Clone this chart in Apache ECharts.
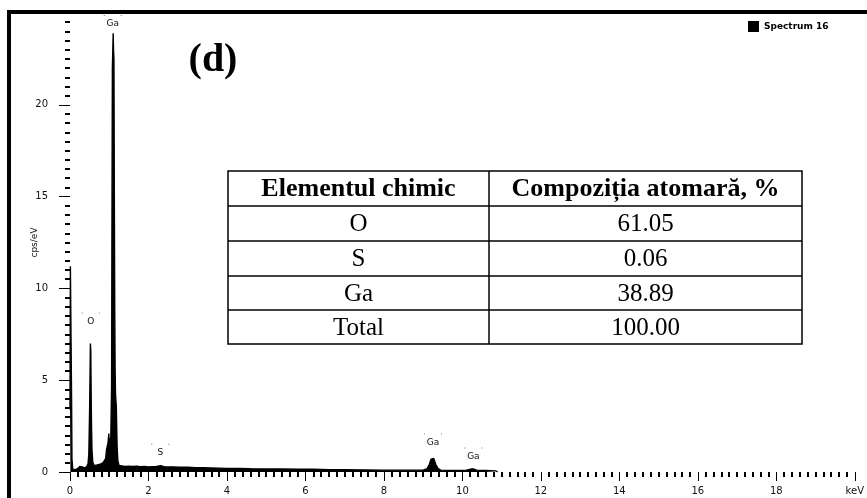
<!DOCTYPE html>
<html>
<head>
<meta charset="utf-8">
<title>EDS spectrum</title>
<script src="https://cdn.jsdelivr.net/npm/echarts@6/dist/echarts.min.js"></script>
<style>
  html, body { margin: 0; padding: 0; background: #fff; }
  #chart { width: 867px; height: 498px; }
</style>
</head>
<body>
<div id="chart"></div>
<script>
// EDS spectrum: energy (keV) vs counts per second per eV
const energyKeV = [
  0.00, 0.01, 0.03, 0.04, 0.05, 0.07, 0.10, 0.13, 0.16, 0.19,
  0.22, 0.25, 0.28, 0.31, 0.34, 0.37, 0.40, 0.43, 0.46, 0.48,
  0.49, 0.50, 0.51, 0.52, 0.53, 0.54, 0.55, 0.56, 0.58, 0.61,
  0.65, 0.69, 0.73, 0.77, 0.81, 0.85, 0.88, 0.91, 0.93, 0.95,
  0.97, 0.99, 1.00, 1.02, 1.04, 1.06, 1.07, 1.08, 1.09, 1.10,
  1.11, 1.12, 1.13, 1.14, 1.15, 1.16, 1.18, 1.20, 1.22, 1.25,
  1.30, 1.40, 1.50, 1.60, 1.70, 1.80, 1.90, 2.00, 2.10, 2.20,
  2.31, 2.40, 2.50, 2.60, 2.80, 3.00, 3.20, 3.40, 3.60, 3.80,
  4.00, 4.30, 4.60, 5.00, 5.40, 5.80, 6.20, 6.60, 7.00, 7.50,
  8.00, 8.50, 9.00, 9.10, 9.16, 9.20, 9.23, 9.27, 9.32, 9.38,
  9.45, 9.80, 10.10, 10.22, 10.28, 10.36, 10.60, 10.85, 10.90
];
const countsCps = [
  3.4, 11.2, 11.1, 4.0, 0.7, 0.15, 0.08, 0.12, 0.10, 0.18,
  0.22, 0.30, 0.24, 0.28, 0.20, 0.22, 0.26, 0.30, 0.45, 1.0,
  2.2, 3.4, 5.2, 7.0, 6.6, 4.1, 2.3, 1.2, 0.55, 0.35,
  0.32, 0.38, 0.36, 0.42, 0.45, 0.52, 0.58, 0.75, 1.2, 1.4,
  1.6, 2.1, 1.5, 1.7, 1.9, 4.6, 14.3, 22.0, 22.9, 23.9,
  22.9, 22.5, 15.0, 9.0, 5.5, 4.2, 3.6, 1.4, 0.6, 0.36,
  0.32, 0.30, 0.32, 0.30, 0.31, 0.29, 0.30, 0.28, 0.29, 0.30,
  0.34, 0.29, 0.27, 0.28, 0.26, 0.26, 0.24, 0.23, 0.22, 0.21,
  0.20, 0.19, 0.18, 0.17, 0.16, 0.15, 0.15, 0.13, 0.12, 0.11,
  0.10, 0.10, 0.10, 0.18, 0.42, 0.70, 0.80, 0.74, 0.42, 0.18,
  0.10, 0.09, 0.10, 0.16, 0.17, 0.10, 0.08, 0.06, 0
];

// Element line labels: name, energy (keV), label height (cps/eV)
const peakNames = ['Ga', 'O', 'S', 'Ga', 'Ga'];
const peakEnergy = [1.09, 0.53, 2.30, 9.25, 10.28];
const peakLabelY = [24.4, 8.2, 1.05, 1.6, 0.85];

// Quantification table
const tableHeader = ['Elementul chimic', 'Compoziția atomară, %'];
const tableElements = ['O', 'S', 'Ga', 'Total'];
const tableValues = ['61.05', '0.06', '38.89', '100.00'];

// Axis ticks
const xTicks = { min: 0, max: 20, step: 2 };
const yTicks = { min: 0, max: 25, step: 5 };

const spectrum = energyKeV.map((e, i) => [e, countsCps[i]]);
const peakLabels = peakNames.map((n, i) => ({ name: n, value: [peakEnergy[i], peakLabelY[i]] }));

const chart = echarts.init(document.getElementById('chart'), null, { renderer: 'canvas' });

const sansFont = 'DejaVu Sans';
const serifFont = 'Liberation Serif';

// Table geometry
const tLeft = 228, tRight = 802, tMid = 489;
const tRows = [171, 206, 241, 276, 310, 344];
const tableGraphics = [];
tableGraphics.push({
  type: 'rect', shape: { x: tLeft, y: tRows[0], width: tRight - tLeft, height: tRows[tRows.length - 1] - tRows[0] },
  style: { fill: '#fff', stroke: '#000', lineWidth: 1.5 }, z: 10
});
for (let i = 1; i < tRows.length - 1; i++) {
  tableGraphics.push({
    type: 'line', shape: { x1: tLeft, y1: tRows[i], x2: tRight, y2: tRows[i] },
    style: { stroke: '#000', lineWidth: 1.5 }, z: 11
  });
}
tableGraphics.push({
  type: 'line', shape: { x1: tMid, y1: tRows[0], x2: tMid, y2: tRows[tRows.length - 1] },
  style: { stroke: '#000', lineWidth: 1.5 }, z: 11
});
const colCenters = [(tLeft + tMid) / 2, (tMid + tRight) / 2];
tableHeader.forEach((h, c) => {
  tableGraphics.push({
    type: 'text', x: colCenters[c], y: (tRows[0] + tRows[1]) / 2 + 1, z: 12,
    style: { text: h, font: 'bold 26px "' + serifFont + '"', fill: '#000', align: 'center', verticalAlign: 'middle' }
  });
});
tableElements.forEach((el, r) => {
  const cy = (tRows[r + 1] + tRows[r + 2]) / 2 + 1;
  tableGraphics.push({
    type: 'text', x: colCenters[0], y: cy, z: 12,
    style: { text: el, font: '25px "' + serifFont + '"', fill: '#000', align: 'center', verticalAlign: 'middle' }
  });
  tableGraphics.push({
    type: 'text', x: colCenters[1], y: cy, z: 12,
    style: { text: tableValues[r], font: '25px "' + serifFont + '"', fill: '#000', align: 'center', verticalAlign: 'middle' }
  });
});

const option = {
  backgroundColor: '#fff',
  animation: false,
  grid: { left: 70, right: 7, top: 13, bottom: 26, containLabel: false },
  legend: {
    left: 748, top: 21, padding: 0,
    itemWidth: 11, itemHeight: 11, itemGap: 6,
    icon: 'rect',
    textStyle: { fontFamily: sansFont, fontSize: 9, fontWeight: 'bold', color: '#000' },
    data: ['Spectrum 16']
  },
  xAxis: {
    type: 'value', min: xTicks.min, max: xTicks.max, interval: xTicks.step,
    offset: 1,
    axisLine: { show: false },
    axisTick: { show: true, length: 9, lineStyle: { color: '#000', width: 1 } },
    minorTick: { show: true, splitNumber: 10, length: 5, lineStyle: { color: '#000', width: 2 } },
    splitLine: { show: false },
    axisLabel: {
      color: '#111', fontFamily: sansFont, fontSize: 10, margin: 13,
      formatter: v => (v === xTicks.max ? 'keV' : String(v))
    }
  },
  yAxis: {
    type: 'value', min: yTicks.min, max: yTicks.max, interval: yTicks.step,
    offset: 9,
    name: 'cps/eV', nameLocation: 'middle', nameGap: 22, nameRotate: 90,
    nameMoveOverlap: false,
    nameTextStyle: { fontFamily: sansFont, fontSize: 9, color: '#111' },
    axisLine: { show: false },
    axisTick: { show: true, length: 11, lineStyle: { color: '#000', width: 1 } },
    minorTick: { show: true, splitNumber: 10, length: 5, lineStyle: { color: '#000', width: 2 } },
    splitLine: { show: false },
    axisLabel: {
      color: '#111', fontFamily: sansFont, fontSize: 10, margin: 13,
      formatter: v => (v === yTicks.max ? '' : String(v))
    }
  },
  graphic: [
    // frame on top and left
    { type: 'rect', shape: { x: 7, y: 10, width: 870, height: 4 }, style: { fill: '#000' }, z: 20 },
    { type: 'rect', shape: { x: 7, y: 10, width: 4, height: 500 }, style: { fill: '#000' }, z: 20 },
    // panel tag
    { type: 'text', x: 213, y: 61, z: 20,
      style: { text: '(d)', font: 'bold 40px "' + serifFont + '"', fill: '#000', align: 'center', verticalAlign: 'middle' } },
    ...tableGraphics
  ],
  series: [
    {
      name: 'Spectrum 16',
      type: 'line',
      data: spectrum,
      showSymbol: false,
      symbol: 'none',
      smooth: false,
      color: '#000',
      lineStyle: { color: '#000', width: 1.4 },
      areaStyle: { color: '#000', opacity: 1 },
      z: 2
    },
    {
      name: 'labels',
      type: 'custom',
      data: peakLabels,
      z: 5,
      renderItem: (params, api) => {
        const p = api.coord([api.value(0), api.value(1)]);
        const name = peakLabels[params.dataIndex].name;
        return {
          type: 'group',
          children: [
            { type: 'text', x: p[0], y: p[1],
              style: { text: name, font: '9px "' + sansFont + '"', fill: '#111', align: 'center', verticalAlign: 'middle' } },
            { type: 'rect', shape: { x: p[0] - 9, y: p[1] - 9, width: 1, height: 1 }, style: { fill: '#777' } },
            { type: 'rect', shape: { x: p[0] + 8, y: p[1] - 9, width: 1, height: 1 }, style: { fill: '#777' } }
          ]
        };
      }
    }
  ]
};

chart.setOption(option);
</script>
</body>
</html>
